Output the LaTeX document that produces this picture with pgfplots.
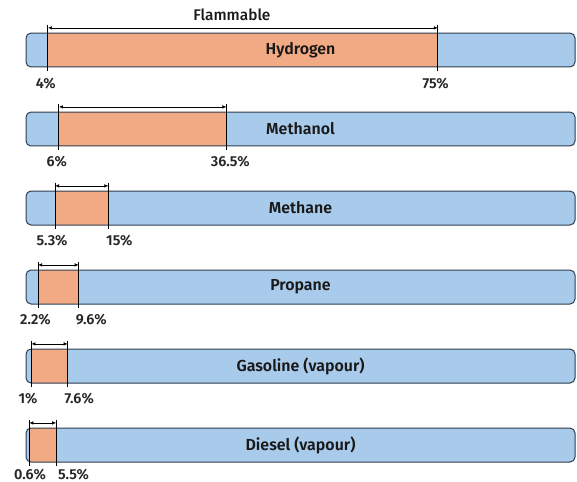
\documentclass[border=0pt]{standalone}
\usepackage{pgfplots}
\pgfplotsset{compat=1.18}
\usepackage{fontspec}
\setmainfont{Fira Sans}
\newfontfamily\semib{Fira Sans SemiBold}
\newfontfamily\med{Fira Sans Medium}
\usetikzlibrary{arrows.meta}
\definecolor{bblue}{HTML}{A9CBEB}
\definecolor{bedge}{HTML}{2E3D4F}
\definecolor{borange}{HTML}{F2AA84}
\pgfplotsset{
  rng/.style={fill=borange, draw=none},
  vl/.style={black, line width=1bp},
  arr/.style={{Latex[length=4bp,width=3.5bp]}-{Latex[length=4bp,width=3.5bp]}, line width=0.6bp, black},
}
\tikzset{pct/.style={font=\semib\fontsize{14.5}{16}\selectfont, text=black!85, inner sep=0pt},
         nm/.style={font=\semib\fontsize{16}{18}\selectfont, text=black!90, inner sep=0pt}}
\begin{document}
\begin{tikzpicture}
\begin{axis}[
  scale only axis, width=577bp, height=482bp,
  xmin=-4.736, xmax=100.36, ymin=-0.633, ymax=5.468,
  y dir=reverse, hide axis, clip=false,
]
\path (rel axis cs:0,0) rectangle (rel axis cs:1,1);
% background bars
\addplot[xbar, bar shift=0pt, bar width=0.43, fill=bblue, draw=none, rounded corners=5bp]
  coordinates {(100,0) (100,1) (100,2) (100,3) (100,4) (100,5)};
% flammable ranges
\addplot[rng] coordinates {(4,-0.215) (75,-0.215) (75,0.215) (4,0.215)} -- cycle;
\addplot[rng] coordinates {(6,0.785) (36.5,0.785) (36.5,1.215) (6,1.215)} -- cycle;
\addplot[rng] coordinates {(5.3,1.785) (15,1.785) (15,2.215) (5.3,2.215)} -- cycle;
\addplot[rng] coordinates {(2.2,2.785) (9.6,2.785) (9.6,3.215) (2.2,3.215)} -- cycle;
\addplot[rng] coordinates {(1,3.785) (7.6,3.785) (7.6,4.215) (1,4.215)} -- cycle;
\addplot[rng] coordinates {(0.6,4.785) (5.5,4.785) (5.5,5.215) (0.6,5.215)} -- cycle;
% outlines
\addplot[xbar, bar shift=0pt, bar width=0.43, fill=none, draw=bedge, line width=1bp, rounded corners=5bp]
  coordinates {(100,0) (100,1) (100,2) (100,3) (100,4) (100,5)};
% limit lines
\addplot[vl] coordinates {(4,-0.32) (4,0.27)};
\addplot[vl] coordinates {(75,-0.32) (75,0.27)};
\addplot[vl] coordinates {(6,0.68) (6,1.27)};
\addplot[vl] coordinates {(36.5,0.68) (36.5,1.27)};
\addplot[vl] coordinates {(5.3,1.68) (5.3,2.27)};
\addplot[vl] coordinates {(15,1.68) (15,2.27)};
\addplot[vl] coordinates {(2.2,2.68) (2.2,3.27)};
\addplot[vl] coordinates {(9.6,2.68) (9.6,3.27)};
\addplot[vl] coordinates {(1,3.68) (1,4.27)};
\addplot[vl] coordinates {(7.6,3.68) (7.6,4.27)};
\addplot[vl] coordinates {(0.6,4.68) (0.6,5.27)};
\addplot[vl] coordinates {(5.5,4.68) (5.5,5.27)};
% arrows
\addplot[arr] coordinates {(4,-0.28) (75,-0.28)};
\addplot[arr] coordinates {(6,0.72) (36.5,0.72)};
\addplot[arr] coordinates {(5.3,1.72) (15,1.72)};
\addplot[arr] coordinates {(2.2,2.72) (9.6,2.72)};
\addplot[arr] coordinates {(1,3.72) (7.6,3.72)};
\addplot[arr] coordinates {(0.6,4.72) (5.5,4.72)};
% names
\node[nm] at (axis cs:50,0) {Hydrogen};
\node[nm] at (axis cs:50,1) {Methanol};
\node[nm] at (axis cs:50,2) {Methane};
\node[nm] at (axis cs:50,3) {Propane};
\node[nm] at (axis cs:50,4) {Gasoline (vapour)};
\node[nm] at (axis cs:50,5) {Diesel (vapour)};
\node[nm, font=\med\fontsize{15.5}{18}\selectfont] at (axis cs:37.5,-0.44) {Flammable};
% percentages
\node[pct] at (axis cs:3.6,0.43) {4\%};
\node[pct] at (axis cs:74.6,0.43) {75\%};
\node[pct] at (axis cs:5.6,1.41) {6\%};
\node[pct] at (axis cs:37.2,1.41) {36.5\%};
\node[pct] at (axis cs:4.74,2.41) {5.3\%};
\node[pct] at (axis cs:17.0,2.41) {15\%};
\node[pct] at (axis cs:1.73,3.41) {2.2\%};
\node[pct] at (axis cs:11.9,3.41) {9.6\%};
\node[pct] at (axis cs:0.36,4.41) {1\%};
\node[pct] at (axis cs:9.7,4.41) {7.6\%};
\node[pct] at (axis cs:0.73,5.37) {0.6\%};
\node[pct] at (axis cs:8.65,5.37) {5.5\%};
\end{axis}
\end{tikzpicture}
\end{document}
